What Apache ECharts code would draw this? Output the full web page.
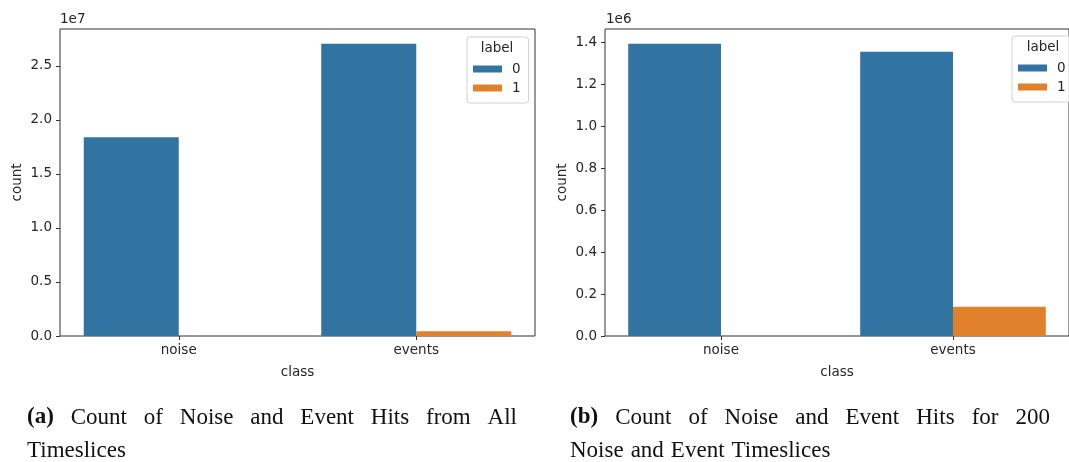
<!DOCTYPE html>
<html>
<head>
<meta charset="utf-8">
<script src="https://cdn.jsdelivr.net/npm/echarts@6/dist/echarts.min.js"></script>
<style>
html,body{margin:0;padding:0;background:#fff;}
#c{width:1069px;height:462px;}
</style>
</head>
<body>
<div id="c"></div>
<script>
// ---- data ----
var categories = ['noise', 'events'];
var seriesNames = ['0', '1'];
// (a) all timeslices
var countsA_label0 = [18380000, 27040000];
var countsA_label1 = [0, 435000];
// (b) 200 noise and event timeslices
var countsB_label0 = [1395000, 1357000];
var countsB_label1 = [0, 140000];
// tick labels
var ticksA = ['0.0', '0.5', '1.0', '1.5', '2.0', '2.5'];
var ticksB = ['0.0', '0.2', '0.4', '0.6', '0.8', '1.0', '1.2', '1.4'];
var scaleA = 1e7, scaleB = 1e6;
var maxA = 28400000, maxB = 1465000;
// captions
var captionA = ['(a)', 'Count of Noise and Event Hits from All', 'Timeslices'];
var captionB = ['(b)', 'Count of Noise and Event Hits for 200', 'Noise and Event Timeslices'];

var blue = '#3274a1', orange = '#e1812c';
var txt = '#262626';
var fs = 13.5;
var font = 'DejaVu Sans';
var capFont = 'Liberation Serif', capSize = 23;

var ticksAVals = ticksA.map(function (t) { return parseFloat(t) * scaleA; });
var ticksBVals = ticksB.map(function (t) { return parseFloat(t) * scaleB; });

function yAxis(idx, max, interval, vals, scale) {
  return {
    type: 'value', gridIndex: idx, min: 0, max: max, interval: interval,
    name: 'count', nameLocation: 'middle', nameGap: 36, nameRotate: 90,
    nameTextStyle: { color: txt, fontSize: fs, fontFamily: font },
    axisLine: { show: false },
    axisTick: { show: true, length: 4, customValues: vals, lineStyle: { color: '#333' } },
    axisLabel: {
      color: txt, fontSize: fs, fontFamily: font, margin: 8, customValues: vals,
      formatter: function (v) { return (v / scale).toFixed(1); }
    },
    splitLine: { show: false }
  };
}
function xAxis(idx) {
  return {
    type: 'category', gridIndex: idx, data: categories,
    name: 'class', nameLocation: 'middle', nameGap: 29,
    nameTextStyle: { color: txt, fontSize: fs, fontFamily: font },
    axisLine: { show: false },
    axisTick: { show: true, alignWithLabel: true, length: 4, lineStyle: { color: '#333' } },
    axisLabel: { color: txt, fontSize: fs, fontFamily: font, margin: 7 },
    splitLine: { show: false }
  };
}
function bar(name, idx, data, color) {
  return {
    type: 'bar', name: name, xAxisIndex: idx, yAxisIndex: idx, data: data,
    barGap: '0%', barCategoryGap: '20%',
    itemStyle: { color: color, borderWidth: 0 },
    emphasis: { disabled: true }, animation: false
  };
}
function legend(left, top) {
  return {
    left: left, top: top, orient: 'vertical', data: seriesNames,
    icon: 'rect', itemWidth: 29, itemHeight: 7, itemGap: 3,
    padding: [24, 8, 7, 6],
    borderColor: '#d0d0d0', borderWidth: 1, borderRadius: 3,
    backgroundColor: 'rgba(255,255,255,0.8)',
    textStyle: { color: txt, fontSize: fs, fontFamily: font, lineHeight: 16, padding: [0, 0, 0, 5] },
    selectedMode: false
  };
}

// caption layout (justified first line, natural spacing on second line)
var mctx = document.createElement('canvas').getContext('2d');
function measure(t, bold) {
  mctx.font = (bold ? 'bold ' : '') + capSize + 'px "' + capFont + '"';
  return mctx.measureText(t).width;
}
function captionLine(words, x0, x1, y, out) {
  var widths = words.map(function (w) { return measure(w.t, w.b); });
  var total = widths.reduce(function (a, b) { return a + b; }, 0);
  var gap = x1 == null ? 7 : (x1 - x0 - total) / (words.length - 1);
  var x = x0;
  words.forEach(function (w, i) {
    out.push({
      type: 'text', x: x, y: y,
      style: { text: w.t, fill: '#111', fontSize: capSize, fontFamily: capFont,
        fontWeight: w.b ? 'bold' : 'normal', verticalAlign: 'middle', textVerticalAlign: 'middle' }
    });
    x += widths[i] + gap;
  });
}
function caption(cap, x0, x1, out) {
  var first = [{ t: cap[0], b: true }].concat(cap[1].split(' ').map(function (t) { return { t: t }; }));
  captionLine(first, x0, x1, 417.5, out);
  captionLine(cap[2].split(' ').map(function (t) { return { t: t }; }), x0, null, 450.5, out);
}

var graphics = [];
caption(captionA, 27, 517, graphics);
caption(captionB, 570, 1050, graphics);
graphics.push({ type: 'text', x: 60, y: 19, style: { text: '1e' + Math.log10(scaleA), fill: txt, fontSize: fs, fontFamily: font, textVerticalAlign: 'middle', verticalAlign: 'middle' } });
graphics.push({ type: 'text', x: 606, y: 19, style: { text: '1e' + Math.log10(scaleB), fill: txt, fontSize: fs, fontFamily: font, textVerticalAlign: 'middle', verticalAlign: 'middle' } });
graphics.push({ type: 'text', x: 497, y: 48, z: 100, style: { text: 'label', fill: txt, fontSize: fs, fontFamily: font, align: 'center', verticalAlign: 'middle', textAlign: 'center', textVerticalAlign: 'middle' } });
graphics.push({ type: 'text', x: 1043, y: 47, z: 100, style: { text: 'label', fill: txt, fontSize: fs, fontFamily: font, align: 'center', verticalAlign: 'middle', textAlign: 'center', textVerticalAlign: 'middle' } });

var chart = echarts.init(document.getElementById('c'), null, { renderer: 'canvas' });
chart.setOption({
  backgroundColor: '#fff',
  animation: false,
  grid: [
    { left: 60, top: 29, width: 475, height: 307, show: true, borderColor: '#333', borderWidth: 1, backgroundColor: 'transparent' },
    { left: 605, top: 29, width: 468, height: 307, show: true, borderColor: '#333', borderWidth: 1, backgroundColor: 'transparent' }
  ],
  xAxis: [xAxis(0), xAxis(1)],
  yAxis: [yAxis(0, maxA, 0.5 * scaleA, ticksAVals, scaleA), yAxis(1, maxB, 0.2 * scaleB, ticksBVals, scaleB)],
  legend: [legend(467, 37), legend(1012, 36)],
  series: [
    bar('0', 0, countsA_label0, blue),
    bar('1', 0, countsA_label1, orange),
    bar('0', 1, countsB_label0, blue),
    bar('1', 1, countsB_label1, orange)
  ],
  graphic: graphics
});
</script>
</body>
</html>
